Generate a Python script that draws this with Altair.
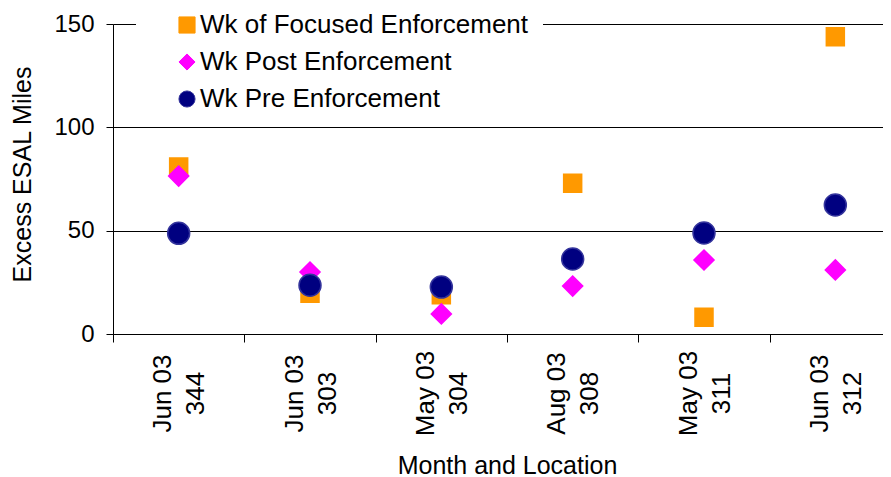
import altair as alt
import pandas as pd

months = ["Jun 03", "Jun 03", "May 03", "Aug 03", "May 03", "Jun 03"]
locations = ["344", "303", "304", "308", "311", "312"]
series_names = ["Wk of Focused Enforcement", "Wk Post Enforcement", "Wk Pre Enforcement"]
focused = [80.8, 19.7, 19.0, 72.9, 8.1, 143.8]
post = [76.4, 30.0, 9.7, 23.2, 35.8, 31.0]
pre = [48.7, 23.6, 22.7, 36.3, 48.9, 62.4]
y_ticks = [0, 50, 100, 150]

categories = [f"{m}|{l}" for m, l in zip(months, locations)]
rows = []
for k, (name, vals) in enumerate(zip(series_names, [focused, post, pre])):
    for c, v in zip(categories, vals):
        rows.append({"cat": c, "series": name, "sizekey": k, "value": v})
df = pd.DataFrame(rows)

FONT = "Liberation Sans"
fill_range = ["#FF9900", "#FF00FF", "#000080"]
stroke_range = ["#FF9900", "#FF00FF", "#34349C"]
shape_range = ["square", "diamond", "circle"]
size_range = [324, 484, 340]

leg = alt.Legend(
    title=None, orient="none", legendX=23, legendY=-26, padding=14,
    fillColor="white", labelFontSize=26, labelFont=FONT, labelColor="black",
    symbolSize=260, symbolOffset=24, labelOffset=0, rowPadding=11,
    labelLimit=600, symbolStrokeWidth=1,
)

chart = alt.Chart(df).mark_point(filled=True, opacity=1, strokeWidth=1.5).encode(
    x=alt.X(
        "cat:N", sort=categories, title="Month and Location",
        scale=alt.Scale(type="band", domain=categories, range=[0, 788], paddingInner=0, paddingOuter=0),
        axis=alt.Axis(
            tickBand="extent", labelAngle=270, labelAlign="center", labelBaseline="middle",
            labelPadding=51, labelLineHeight=33, labelOffset=-16,
            labelExpr="split(datum.label, '|')",
            tickSize=8, labelFontSize=26, titleFontSize=25, titleY=139,
            titleBaseline="alphabetic", titleFontWeight="normal",
            domainColor="black", tickColor="black", labelColor="black", titleColor="black",
            grid=False, labelOverlap=False, labelFont=FONT, titleFont=FONT,
        ),
    ),
    y=alt.Y(
        "value:Q", title="Excess ESAL Miles",
        scale=alt.Scale(domain=[0, 150], nice=False, zero=True),
        axis=alt.Axis(
            values=y_ticks, tickSize=7, labelPadding=12, labelFontSize=24,
            grid=True, gridColor="black", gridWidth=1, gridOpacity=1,
            domainColor="black", tickColor="black", labelColor="black", titleColor="black",
            titleFontSize=25, titleAngle=270, titleX=-83, titleY=150,
            titleBaseline="alphabetic", titleAlign="center", titleFontWeight="normal",
            labelFont=FONT, titleFont=FONT,
        ),
    ),
    fill=alt.Fill("series:N", scale=alt.Scale(domain=series_names, range=fill_range), legend=leg),
    stroke=alt.Stroke("series:N", scale=alt.Scale(domain=series_names, range=stroke_range), legend=leg),
    shape=alt.Shape("series:N", scale=alt.Scale(domain=series_names, range=shape_range), legend=leg),
    size=alt.Size("sizekey:O", scale=alt.Scale(domain=[0, 1, 2], range=size_range), legend=None),
).properties(
    width=770, height=310,
    autosize=alt.AutoSizeParams(type="none"),
    padding={"left": 105, "top": 16, "right": 0, "bottom": 143},
).configure_view(stroke=None).configure(font=FONT)

chart.save("out.html", embed_options={"renderer": "svg", "actions": False})
